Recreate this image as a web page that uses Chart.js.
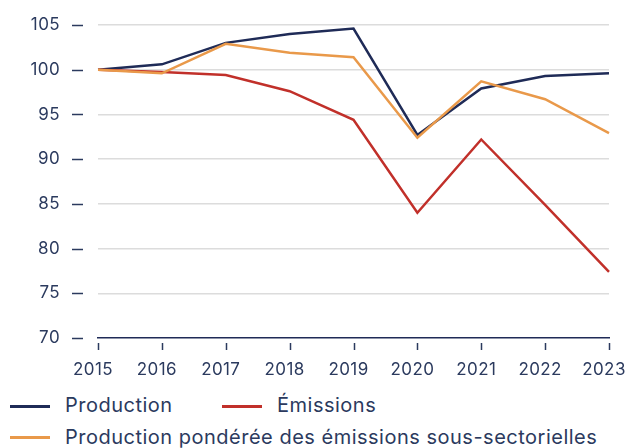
<!DOCTYPE html>
<html><head><meta charset="utf-8">
<script src="https://cdn.jsdelivr.net/npm/chart.js@4.4.0/dist/chart.umd.min.js"></script>
<style>
html,body{margin:0;padding:0;background:#fff;}
#wrap{position:relative;width:629px;height:448px;font-family:Inter,"Noto Sans",sans-serif;color:#2b3a5e;}
#c{position:absolute;left:0;top:0;}
.lg{position:absolute;font-size:20px;line-height:24px;letter-spacing:0.5px;white-space:nowrap;}
.sw{position:absolute;height:3px;width:40px;}
</style></head><body>
<div id="wrap">
<canvas id="c" width="629" height="390"></canvas>
<div class="sw" style="left:10px;top:405px;background:#1f2b57"></div>
<div class="lg" style="left:65px;top:393px">Production</div>
<div class="sw" style="left:222px;top:405px;background:#c1302a"></div>
<div class="lg" style="left:277px;top:393px">Émissions</div>
<div class="sw" style="left:10px;top:436px;background:#e9994a"></div>
<div class="lg" style="left:65px;top:425px">Production pondérée des émissions sous-sectorielles</div>
</div>
<script>
const years = ['2015','2016','2017','2018','2019','2020','2021','2022','2023'];
const production = [100, 100.6, 103.0, 104.0, 104.6, 92.7, 97.9, 99.3, 99.6];
const emissions = [100, 99.75, 99.4, 97.6, 94.4, 84.0, 92.2, 84.9, 77.4];
const ponderee = [100, 99.6, 102.9, 101.9, 101.4, 92.4, 98.7, 96.7, 92.9];
const yTicks = [70, 75, 80, 85, 90, 95, 100, 105];

const NAVY = '#1f2b57', RED = '#c1302a', ORANGE = '#e9994a', TXT = '#2b3a5e';

const tickMarks = {
  id: 'tickMarks',
  beforeDraw(chart) { chart.ctx.letterSpacing = '0.4px'; },
  afterDraw(chart) {
    const ctx = chart.ctx, y = chart.scales.y, x = chart.scales.x;
    ctx.save();
    ctx.strokeStyle = TXT;
    ctx.lineWidth = 1.5;
    y.ticks.forEach(t => {
      const py = Math.round(y.getPixelForValue(t.value)) + 0.5;
      ctx.beginPath(); ctx.moveTo(72, py); ctx.lineTo(83, py); ctx.stroke();
    });
    x.ticks.forEach((t, i) => {
      const px = Math.round(x.getPixelForTick(i)) + 0.5;
      const b = chart.chartArea.bottom;
      ctx.beginPath(); ctx.moveTo(px, b + 5); ctx.lineTo(px, b + 12); ctx.stroke();
    });
    ctx.restore();
  }
};

new Chart(document.getElementById('c'), {
  type: 'line',
  data: {
    labels: years,
    datasets: [
      {label: 'Production pondérée des émissions sous-sectorielles', data: ponderee, borderColor: ORANGE, borderWidth: 2.5, pointRadius: 0, tension: 0},
      {label: 'Émissions', data: emissions, borderColor: RED, borderWidth: 2.5, pointRadius: 0, tension: 0},
      {label: 'Production', data: production, borderColor: NAVY, borderWidth: 2.5, pointRadius: 0, tension: 0}
    ]
  },
  options: {
    responsive: false,
    animation: false,
    layout: {padding: {top: 25, right: 20, bottom: 0, left: 0}},
    plugins: {legend: {display: false}, tooltip: {enabled: false}},
    scales: {
      x: {
        grid: {display: false},
        border: {display: true, color: NAVY, width: 1.5},
        ticks: {color: TXT, padding: 14, labelOffset: -5, font: {family: 'Inter', size: 17}, maxRotation: 0, autoSkip: false},
        afterFit(s) { s.height = 52; s.paddingLeft = 0; s.paddingRight = 0; }
      },
      y: {
        min: 70, max: 105,
        afterBuildTicks(s) { s.ticks = yTicks.map(v => ({value: v})); },
        grid: {drawTicks: false, color: ctx => ctx.tick && ctx.tick.value === 70 ? 'rgba(0,0,0,0)' : '#dcdcdc', lineWidth: 1.5},
        border: {display: false},
        ticks: {color: TXT, padding: 38, font: {family: 'Inter', size: 17}},
        afterFit(s) { s.width = 98; s.paddingTop = 0; s.paddingBottom = 0; }
      }
    }
  },
  plugins: [tickMarks]
});
</script>
</body></html>
